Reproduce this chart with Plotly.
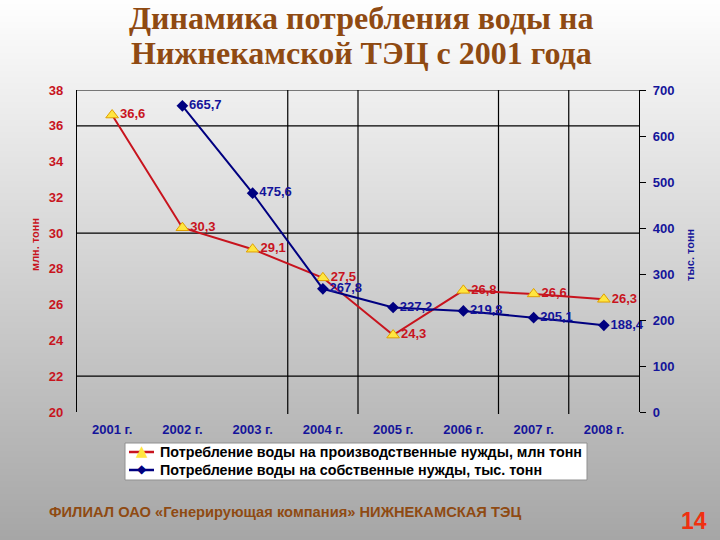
import base64, struct, zlib
import plotly.graph_objects as go

# ---- data ----
years = ["2001 г.", "2002 г.", "2003 г.", "2004 г.", "2005 г.", "2006 г.", "2007 г.", "2008 г."]
prod_values = [36.6, 30.3, 29.1, 27.5, 24.3, 26.8, 26.6, 26.3]          # млн тонн
own_values = [None, 665.7, 475.6, 267.8, 227.2, 219.8, 205.1, 188.4]    # тыс. тонн
left_ticks = [20, 22, 24, 26, 28, 30, 32, 34, 36, 38]
right_ticks = [0, 100, 200, 300, 400, 500, 600, 700]
prod_name = "Потребление воды на производственные нужды, млн тонн"
own_name = "Потребление воды на собственные нужды, тыс. тонн"
title_line1 = "Динамика потребления воды на"
title_line2 = "Нижнекамской ТЭЦ с 2001 года"
footer_text = "ФИЛИАЛ ОАО «Генерирующая компания» НИЖНЕКАМСКАЯ ТЭЦ"
page_no = "14"

# ---- style ----
W, H = 720, 540
ML, MR, MT, MB = 77, 81, 90, 128
RED = "#c8141e"
NAVY = "#000080"
NAVY_TXT = "#14149a"
BROWN = "#8f4a12"
YELLOW = "#ffe640"
SANS = "Liberation Sans, Arial, sans-serif"
h_grid = [22, 30, 36, 38]
v_grid = [2.5, 3.5, 5.5, 6.5]
LEG_BOX = (125, 443, 587, 480)   # pixel box of the legend
LEG_ROWS = (452, 470)


def gradient_png(h, top, bottom):
    rows = b""
    for i in range(h):
        t = i / (h - 1)
        v = int(round(top + (bottom - top) * t))
        rows += b"\x00" + bytes([v, v, v])
    def chunk(tag, data):
        return struct.pack(">I", len(data)) + tag + data + struct.pack(">I", zlib.crc32(tag + data) & 0xffffffff)
    png = b"\x89PNG\r\n\x1a\n" + chunk(b"IHDR", struct.pack(">IIBBBBB", 1, h, 8, 2, 0, 0, 0)) \
        + chunk(b"IDAT", zlib.compress(rows)) + chunk(b"IEND", b"")
    return "data:image/png;base64," + base64.b64encode(png).decode()


def fmt(v):
    return "" if v is None else f"{v:.1f}".replace(".", ",")


pw = W - ML - MR
ph = H - MT - MB


def px(x):
    return (x - ML) / pw


def py(y):
    return (H - MB - y) / ph


fig = go.Figure()
fig.add_trace(go.Scatter(
    x=years, y=prod_values, name=prod_name, mode="lines+markers+text",
    line=dict(color=RED, width=2),
    marker=dict(symbol="triangle-up", size=11, color=YELLOW, line=dict(color="#e0a000", width=1)),
    text=[fmt(v) for v in prod_values], textposition="middle right",
    textfont=dict(family=SANS, size=13, color=RED, weight="bold"),
    yaxis="y", cliponaxis=False, showlegend=False,
))
fig.add_trace(go.Scatter(
    x=years, y=own_values, name=own_name, mode="lines+markers+text",
    line=dict(color=NAVY, width=2),
    marker=dict(symbol="diamond", size=9, color=NAVY),
    text=[fmt(v) for v in own_values], textposition="middle right",
    textfont=dict(family=SANS, size=13, color=NAVY_TXT, weight="bold"),
    yaxis="y2", cliponaxis=False, connectgaps=False, showlegend=False,
))

shapes = []
for g in h_grid:
    shapes.append(dict(type="line", xref="paper", yref="y", x0=0, x1=1, y0=g, y1=g,
                       line=dict(color="black", width=1.2), layer="below"))
for g in v_grid:
    shapes.append(dict(type="line", xref="x", yref="paper", x0=g, x1=g, y0=-0.006, y1=1,
                       line=dict(color="black", width=1.2), layer="below"))

# legend box (drawn by hand to match the compact original)
bx0, by0, bx1, by1 = LEG_BOX
shapes.append(dict(type="rect", xref="paper", yref="paper", x0=px(bx0), x1=px(bx1), y0=py(by1), y1=py(by0),
                   fillcolor="white", line=dict(color="#909090", width=1), layer="above"))
legend_items = [(prod_name, RED, "▲", YELLOW, 15), (own_name, NAVY, "◆", NAVY, 12)]
annotations = []
for (name, lcol, glyph, gcol, gsize), ry in zip(legend_items, LEG_ROWS):
    shapes.append(dict(type="line", xref="paper", yref="paper", x0=px(129), x1=px(154), y0=py(ry), y1=py(ry),
                       line=dict(color=lcol, width=2.5), layer="above"))
    annotations.append(dict(text=glyph, xref="paper", yref="paper", x=px(141.5), y=py(ry - 1),
                            xanchor="center", yanchor="middle", showarrow=False,
                            font=dict(family="DejaVu Sans, sans-serif", size=gsize, color=gcol)))
    annotations.append(dict(text=name, xref="paper", yref="paper", x=px(158), y=py(ry),
                            xanchor="left", yanchor="middle", showarrow=False,
                            font=dict(family=SANS, size=14.3, color="black", weight="bold")))

annotations += [
    dict(text=title_line1, xref="paper", yref="paper", x=px(W / 2 + 1), y=py(18),
         xanchor="center", yanchor="middle", showarrow=False,
         font=dict(family="Liberation Serif, Times New Roman, serif", size=32, color=BROWN, weight="bold")),
    dict(text=title_line2, xref="paper", yref="paper", x=px(W / 2 + 1), y=py(53),
         xanchor="center", yanchor="middle", showarrow=False,
         font=dict(family="Liberation Serif, Times New Roman, serif", size=32, color=BROWN, weight="bold")),
    dict(text="млн. тонн", xref="paper", yref="paper", x=px(35), y=py(245),
         xanchor="center", yanchor="middle", showarrow=False, textangle=-90,
         font=dict(family=SANS, size=11, color=RED, weight="bold")),
    dict(text="тыс. тонн", xref="paper", yref="paper", x=px(690), y=py(255),
         xanchor="center", yanchor="middle", showarrow=False, textangle=-90,
         font=dict(family=SANS, size=11, color=NAVY_TXT, weight="bold")),
    dict(text=footer_text, xref="paper", yref="paper", x=px(47), y=py(512),
         xanchor="left", yanchor="middle", showarrow=False,
         font=dict(family="Liberation Sans Narrow, Arial Narrow, Liberation Sans, sans-serif", size=14.7,
                   color=BROWN, weight="bold")),
    dict(text=page_no, xref="paper", yref="paper", x=px(709), y=py(521),
         xanchor="right", yanchor="middle", showarrow=False,
         font=dict(family=SANS, size=23, color="#f03010", weight="bold")),
]

fig.update_layout(
    width=W, height=H,
    margin=dict(l=ML, r=MR, t=MT, b=MB),
    paper_bgcolor="#d0d0d0",
    plot_bgcolor="rgba(0,0,0,0)",
    showlegend=False,
    xaxis=dict(
        type="category", range=[-0.5, 7.5], showgrid=False, zeroline=False,
        showline=False, ticks="", tickfont=dict(family=SANS, size=13, color=NAVY_TXT, weight="bold"),
        ticklabelstandoff=8,
    ),
    yaxis=dict(
        range=[20, 38], tickvals=left_ticks, showgrid=False, zeroline=False,
        showline=True, linecolor="black", linewidth=1.2, ticks="",
        tickfont=dict(family=SANS, size=13, color=RED, weight="bold"),
        ticklabelstandoff=10,
    ),
    yaxis2=dict(
        range=[0, 700], tickvals=right_ticks, overlaying="y", side="right", showgrid=False,
        zeroline=False, showline=True, linecolor="black", linewidth=1.2,
        ticks="outside", ticklen=6, tickcolor="black",
        tickfont=dict(family=SANS, size=13, color=NAVY_TXT, weight="bold"),
        ticklabelstandoff=4,
    ),
    shapes=shapes,
    annotations=annotations,
    images=[dict(
        source=gradient_png(H, 254, 166), xref="paper", yref="paper",
        x=-ML / pw, y=1 + MT / ph, sizex=W / pw, sizey=H / ph,
        xanchor="left", yanchor="top", sizing="stretch", layer="below",
    )],
)

fig.write_html("out.html", config={"displayModeBar": False},
               post_script="document.body.style.margin='0px';document.body.style.padding='0px';")
